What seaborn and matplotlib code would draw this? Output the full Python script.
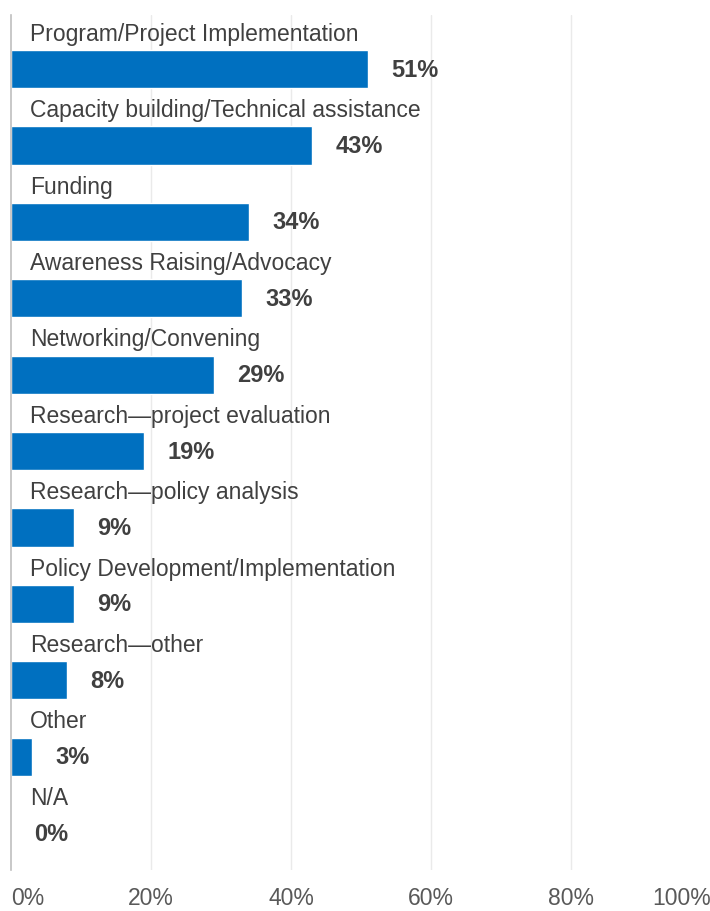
import matplotlib
matplotlib.use("Agg")
import matplotlib.pyplot as plt
import seaborn as sns
import pandas as pd

categories = [
    "Program/Project Implementation",
    "Capacity building/Technical assistance",
    "Funding",
    "Awareness Raising/Advocacy",
    "Networking/Convening",
    "Research\u2014project evaluation",
    "Research\u2014policy analysis",
    "Policy Development/Implementation",
    "Research\u2014other",
    "Other",
    "N/A",
]
values = [51, 43, 34, 33, 29, 19, 9, 9, 8, 3, 0]
x_ticks = [0, 20, 40, 60, 80, 100]
x_tick_labels = ["0%", "20%", "40%", "60%", "80%", "100%"]

df = pd.DataFrame({"category": categories, "value": values})

sns.set_theme(style="white")
plt.rcParams["font.family"] = ["Liberation Sans", "DejaVu Sans"]

text_color = "#404040"
bar_color = "#0070C0"

fig = plt.figure(figsize=(7.10, 9.11), dpi=100)
ax = fig.add_axes([11 / 710, 41 / 911, 700 / 710, 855 / 911])

sns.barplot(data=df, x="value", y="category", orient="h", color=bar_color,
            width=0.5, saturation=1, ax=ax)

ax.set_xlim(0, 100)
ax.set_ylim(len(categories) - 1 + 0.484, -0.707)
ax.set_xticks(x_ticks)
ax.set_xticklabels(x_tick_labels, fontsize=16.5, color="#595959")
ax.tick_params(axis="x", length=0, pad=12)
tick_labels = ax.get_xticklabels()
tick_labels[0].set_ha("left")
tick_labels[-1].set_ha("right")
ax.set_yticks([])
ax.set_xlabel("")
ax.set_ylabel("")

for t in x_ticks[1:]:
    ax.axvline(t, color="#EAEAEA", lw=1, zorder=0)

for side in ["top", "right", "bottom"]:
    ax.spines[side].set_visible(False)
ax.spines["left"].set_color("#BFBFBF")
ax.spines["left"].set_linewidth(1.2)

for i, (cat, val) in enumerate(zip(categories, values)):
    ax.text(2.7, i - 0.455, cat, fontsize=16.5, color=text_color, va="center", ha="left")
    ax.annotate(f"{val}%", xy=(val, i + 0.015), xytext=(17, 0), textcoords="offset points",
                fontsize=17, fontweight="bold", color=text_color,
                va="center", ha="left")

fig.savefig("out.png", dpi=100)
